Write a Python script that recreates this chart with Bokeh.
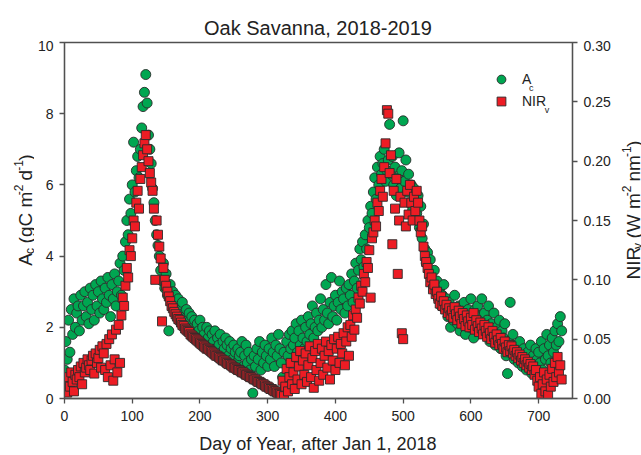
from bokeh.plotting import figure
from bokeh.models import Range1d, LinearAxis, Label, Legend, LegendItem, FixedTicker, NumeralTickFormatter
from bokeh.layouts import column, row
from bokeh.embed import file_html
from bokeh.resources import INLINE
import math

# ---------------- data (one value every 2 days) ----------------
day = list(range(0, 736, 2))

a_c = [
    0.8, 1.6, 1.1, 2.2, 1.3, 2.5, 1.8, 2.8, 2.0, 2.4,
    2.6, 1.9, 2.9, 2.2, 2.6, 3.0, 2.3, 2.7, 2.1, 3.1,
    2.5, 2.9, 2.2, 3.2, 2.6, 3.0, 2.4, 3.3, 2.8, 2.5,
    3.1, 2.7, 3.4, 2.9, 2.3, 3.2, 2.8, 3.5, 2.6, 3.0,
    3.3, 3.8, 2.9, 4.0, 3.6, 4.4, 5.0, 4.6, 5.6, 5.2,
    6.0, 7.2, 5.8, 6.4, 6.8, 6.2, 7.0, 7.6, 8.2, 8.6,
    9.1, 8.3, 7.4, 7.0, 6.6, 5.9, 5.5, 5.0, 4.6, 4.3,
    4.0, 3.6, 3.3, 3.8, 3.1, 3.5, 2.9, 1.9, 3.2, 2.7,
    3.0, 2.6, 2.9, 2.4, 2.8, 2.5, 2.2, 2.7, 2.4, 2.1,
    2.5, 2.2, 2.4, 1.9, 2.3, 2.0, 2.2, 1.8, 2.1, 1.9,
    2.2, 1.7, 2.0, 1.8, 1.6, 2.0, 1.7, 1.9, 1.5, 1.8,
    1.6, 1.9, 1.4, 1.7, 1.5, 1.8, 1.3, 1.6, 1.4, 1.7,
    1.5, 1.2, 1.6, 1.4, 1.1, 1.5, 1.3, 1.0, 1.4, 1.2,
    1.3, 1.6, 0.9, 1.2, 1.5, 1.0, 1.3, 0.8, 1.1, 0.15,
    1.2, 0.9, 1.4, 1.1, 1.6, 0.8, 1.3, 1.0, 1.5, 1.2,
    0.9, 1.4, 1.1, 1.7, 1.3, 0.9, 1.5, 1.2, 1.8, 1.4,
    1.0, 0.6, 1.3, 0.3, 1.6, 1.2, 1.8, 1.4, 1.9, 1.5,
    1.7, 2.1, 1.3, 1.9, 1.5, 2.2, 1.7, 1.4, 2.0, 1.6,
    2.3, 1.8, 2.1, 2.6, 1.7, 2.0, 2.4, 1.9, 2.2, 2.8,
    2.0, 2.5, 2.2, 3.2, 2.4, 2.1, 2.7, 3.4, 2.3, 2.6,
    2.9, 2.2, 2.7, 3.3, 2.5, 3.0, 2.8, 2.4, 3.1, 2.6,
    3.2, 2.9, 3.5, 2.7, 3.3, 3.8, 3.1, 3.6, 4.2, 3.9,
    4.4, 3.7, 4.6, 4.2, 5.0, 4.8, 5.4, 5.2, 5.8, 6.2,
    5.6, 6.5, 6.0, 6.8, 6.3, 6.6, 7.0, 6.1, 6.4, 6.7,
    7.7, 6.3, 6.8, 6.0, 6.5, 5.7, 6.2, 6.9, 5.9, 6.4,
    7.8, 6.1, 6.7, 5.8, 6.3, 5.5, 6.0, 5.3, 5.9, 5.6,
    5.2, 5.7, 4.8, 5.4, 4.5, 4.9, 4.2, 3.8, 4.1, 3.6,
    3.9, 3.4, 3.2, 3.6, 3.0, 3.3, 2.8, 3.1, 2.6, 2.9,
    3.2, 2.5, 2.8, 2.3, 2.7, 2.0, 2.5, 2.2, 2.9, 2.4,
    2.1, 2.6, 1.9, 2.4, 2.2, 2.7, 1.8, 2.3, 2.5, 2.0,
    2.8, 2.2, 1.7, 2.5, 2.1, 2.6, 1.9, 2.3, 2.8, 2.0,
    2.4, 1.8, 2.2, 2.6, 1.6, 2.1, 1.9, 2.4, 1.5, 2.0,
    1.8, 2.2, 1.4, 1.9, 1.7, 2.1, 1.2, 0.7, 1.6, 2.7,
    1.4, 1.8, 1.1, 1.5, 1.3, 1.0, 1.6, 1.2, 0.9, 1.4,
    1.1, 0.8, 1.3, 1.0, 1.5, 0.7, 1.2, 0.9, 1.4, 1.1,
    1.3, 1.0, 1.6, 0.8, 1.4, 1.1, 1.8, 1.2, 1.5, 1.0,
    1.7, 1.3, 1.9, 1.5, 2.1, 1.6, 2.3, 1.9,
]

nir_v = [
    0.008, 0.012, 0.005, 0.018, 0.010, 0.022, 0.014, 0.006, 0.020, 0.016,
    0.024, 0.018, 0.027, 0.012, 0.030, 0.022, 0.026, 0.033, 0.028, 0.024,
    0.032, 0.036, 0.021, 0.038, 0.030, 0.034, 0.041, 0.026, 0.044, 0.038,
    0.024, 0.046, 0.018, 0.050, 0.028, 0.054, 0.015, 0.033, 0.058, 0.022,
    0.062, 0.030, 0.070, 0.085, 0.078, 0.095, 0.110, 0.102, 0.125, 0.120,
    0.135, 0.150, 0.145, 0.165, 0.175, 0.160, 0.185, 0.195, 0.205, 0.215,
    0.222, 0.210, 0.200, 0.190, 0.182, 0.175, 0.160, 0.100, 0.150, 0.138,
    0.128, 0.118, 0.065, 0.110, 0.100, 0.095, 0.090, 0.086, 0.082, 0.078,
    0.076, 0.073, 0.071, 0.069, 0.067, 0.066, 0.064, 0.062, 0.061, 0.059,
    0.058, 0.057, 0.056, 0.054, 0.053, 0.052, 0.051, 0.050, 0.049, 0.048,
    0.047, 0.046, 0.045, 0.044, 0.043, 0.042, 0.042, 0.041, 0.040, 0.039,
    0.038, 0.037, 0.036, 0.036, 0.035, 0.034, 0.033, 0.032, 0.032, 0.031,
    0.030, 0.029, 0.029, 0.028, 0.027, 0.026, 0.026, 0.025, 0.024, 0.024,
    0.023, 0.022, 0.022, 0.021, 0.020, 0.020, 0.019, 0.018, 0.018, 0.017,
    0.016, 0.016, 0.015, 0.014, 0.014, 0.013, 0.012, 0.012, 0.011, 0.010,
    0.010, 0.009, 0.008, 0.008, 0.007, 0.006, 0.006, 0.005, 0.004, 0.004,
    0.003, 0.015, 0.002, 0.010, 0.025, 0.006, 0.018, 0.030, 0.012, 0.022,
    0.008, 0.035, 0.016, 0.027, 0.040, 0.012, 0.032, 0.020, 0.038, 0.014,
    0.028, 0.044, 0.018, 0.034, 0.009, 0.040, 0.024, 0.046, 0.015, 0.030,
    0.042, 0.020, 0.036, 0.048, 0.026, 0.040, 0.016, 0.045, 0.032, 0.050,
    0.024, 0.042, 0.052, 0.030, 0.046, 0.038, 0.055, 0.028, 0.048, 0.060,
    0.036, 0.062, 0.052, 0.070, 0.058, 0.075, 0.068, 0.085, 0.080, 0.095,
    0.090, 0.105, 0.098, 0.115, 0.110, 0.125, 0.085, 0.135, 0.140, 0.150,
    0.145, 0.165, 0.158, 0.175, 0.185, 0.170, 0.195, 0.215, 0.243, 0.240,
    0.190, 0.205, 0.130, 0.175, 0.160, 0.185, 0.105, 0.150, 0.170, 0.055,
    0.050, 0.165, 0.145, 0.175, 0.155, 0.180, 0.165, 0.150, 0.170, 0.158,
    0.175, 0.165, 0.150, 0.140, 0.145, 0.128, 0.120, 0.115, 0.110, 0.105,
    0.098, 0.102, 0.092, 0.096, 0.088, 0.090, 0.084, 0.080, 0.086, 0.078,
    0.082, 0.075, 0.079, 0.072, 0.076, 0.070, 0.074, 0.068, 0.077, 0.071,
    0.066, 0.074, 0.069, 0.063, 0.072, 0.067, 0.061, 0.070, 0.065, 0.060,
    0.068, 0.062, 0.072, 0.058, 0.066, 0.061, 0.056, 0.064, 0.059, 0.054,
    0.062, 0.057, 0.052, 0.060, 0.055, 0.050, 0.057, 0.052, 0.047, 0.054,
    0.049, 0.045, 0.051, 0.046, 0.042, 0.048, 0.043, 0.039, 0.045, 0.040,
    0.044, 0.038, 0.041, 0.036, 0.039, 0.034, 0.037, 0.032, 0.035, 0.030,
    0.033, 0.028, 0.031, 0.026, 0.029, 0.024, 0.027, 0.020, 0.024, 0.015,
    0.010, 0.018, 0.004, 0.012, 0.022, 0.006, 0.016, 0.003, 0.020, 0.010,
    0.025, 0.014, 0.030, 0.018, 0.035, 0.022, 0.028, 0.016,
]

x_ticks = [0, 100, 200, 300, 400, 500, 600, 700]
a_ticks = [0, 2, 4, 6, 8, 10]
nir_ticks = [0.0, 0.05, 0.10, 0.15, 0.20, 0.25, 0.30]

title_text = "Oak Savanna, 2018-2019"
x_label = "Day of Year, after Jan 1, 2018"

# ---------------- layout constants (page pixels, figure origin at page 0,0) ----------------
FONT = "Liberation Sans"
TXT = "#222222"
AX = "#505050"
TOTAL_W, TOTAL_H = 641, 455
TOP_H = 40
LEFT_W = 34
RIGHT_W = 28
MAIN_W = TOTAL_W - LEFT_W - RIGHT_W
FX0, FY0, FW, FH = 62, 42, 511, 357       # frame on the page
MAIN_H = (FY0 - TOP_H) + FH + 24
BOT_H = TOTAL_H - TOP_H - MAIN_H
XMAX, YMAX, NMAX = 750, 10, 0.30

p = figure(width=MAIN_W, height=MAIN_H, output_backend="svg", toolbar_location=None,
           x_range=Range1d(0, XMAX), y_range=Range1d(0, YMAX),
           min_border_left=FX0 - LEFT_W, min_border_right=LEFT_W + MAIN_W - FX0 - FW,
           min_border_top=FY0 - TOP_H, min_border_bottom=MAIN_H - (FY0 - TOP_H) - FH,
           title=None)
p.extra_y_ranges = {"nir": Range1d(0, NMAX)}
p.xgrid.visible = False
p.ygrid.visible = False
p.outline_line_color = AX
p.outline_line_width = 1.3
p.background_fill_color = "white"
p.border_fill_color = "white"

right = LinearAxis(y_range_name="nir")
p.add_layout(right, "right")

for ax in [p.xaxis[0], p.yaxis[0], right]:
    ax.axis_line_color = AX
    ax.axis_line_width = 1.3
    ax.major_tick_line_color = AX
    ax.major_tick_line_width = 1.3
    ax.major_tick_out = 5
    ax.major_tick_in = 0
    ax.minor_tick_out = 0
    ax.minor_tick_in = 0
    ax.major_label_text_font = FONT
    ax.major_label_text_font_size = "14px"
    ax.major_label_text_color = TXT
    ax.major_label_standoff = 6
p.xaxis[0].major_label_standoff = 7

p.xaxis[0].ticker = FixedTicker(ticks=x_ticks)
p.yaxis[0].ticker = FixedTicker(ticks=a_ticks)
right.ticker = FixedTicker(ticks=nir_ticks)
right.formatter = NumeralTickFormatter(format="0.00")

ga = p.scatter(day, a_c, marker="circle", size=10, fill_color="#00A651",
               line_color="#2a2a2a", line_width=0.9)
gn = p.scatter(day, nir_v, marker="square", size=9, fill_color="#ED1C24",
               line_color="#2a2a2a", line_width=0.9, y_range_name="nir")

legend = Legend(items=[LegendItem(label="A", renderers=[ga]),
                       LegendItem(label="NIR", renderers=[gn])],
                location=(426, 286), orientation="vertical",
                glyph_width=22, glyph_height=22, label_height=22, spacing=0,
                label_standoff=10, padding=0, margin=0,
                label_text_font=FONT, label_text_font_size="14px", label_text_color=TXT,
                background_fill_alpha=0, border_line_alpha=0)
p.add_layout(legend, "center")

# ---------------- text helpers ----------------
WID = {' ': 278, '(': 333, ')': 333, '-': 333, 'A': 667, 'C': 722, 'I': 278, 'N': 722,
       'R': 722, 'W': 944, 'c': 500, 'd': 556, 'g': 556, 'm': 833, 'n': 556, 'v': 500}


def tw(s, size):
    return sum(WID.get(ch, 556) for ch in s) / 1000.0 * size


def text_fig(w, h):
    f = figure(width=w, height=h, output_backend="svg", toolbar_location=None,
               x_range=Range1d(0, w), y_range=Range1d(h, 0), min_border=0,
               x_axis_type=None, y_axis_type=None, title=None)
    f.xgrid.visible = False
    f.ygrid.visible = False
    f.outline_line_color = None
    f.background_fill_color = "white"
    f.border_fill_color = "white"
    return f


def put(f, x, y, text, size, angle=0.0, align="left"):
    f.add_layout(Label(x=x, y=y, text=text, text_font=FONT, text_font_size=f"{size}px",
                       text_color=TXT, text_align=align, text_baseline="alphabetic",
                       angle=angle))


def run(f, x0, y0, parts, vertical=False):
    pos = 0.0
    for text, size, off in parts:
        body = text.lstrip(" ")
        lead = tw(text[:len(text) - len(body)], size)
        if vertical:
            put(f, x0 - off, y0 - pos - lead, body, size, angle=math.pi / 2)
        else:
            put(f, x0 + pos + lead, y0 - off, body, size)
        pos += tw(text, size)


# legend subscripts (inside the frame, data coordinates from page pixels)
def xd(xp):
    return (xp - FX0) * XMAX / FW


def yd(yp):
    return (FY0 + FH - yp) * YMAX / FH


for xp, yp, t in [(520 + tw("A", 14), 88, "c"), (521 + tw("NIR", 14), 110, "v")]:
    p.add_layout(Label(x=xd(xp), y=yd(yp), text=t, text_font=FONT, text_font_size="9px",
                       text_color=TXT, text_baseline="alphabetic"))

# title
top = text_fig(TOTAL_W, TOP_H)
put(top, FX0 + FW / 2, 27, title_text, 20, align="center")

# x axis label
bot = text_fig(TOTAL_W, BOT_H)
put(bot, FX0 + FW / 2, 443 - (TOP_H + MAIN_H), x_label, 18, align="center")

# left axis label: A_c (gC m^-2 d^-1)
L, S = 19, 12
lf = text_fig(LEFT_W, MAIN_H)
left_parts = [("A", L, 0), ("c", S, -4), (" (gC m", L, 0), ("-2", S, 7),
              (" d", L, 0), ("-1", S, 7), (")", L, 0)]
tot = sum(tw(t, s) for t, s, _ in left_parts)
run(lf, 25, FY0 + FH / 2 + tot / 2 - TOP_H, left_parts, vertical=True)

# right axis label: NIR_v (W m^-2 nm^-1)
rf = text_fig(RIGHT_W, MAIN_H)
right_parts = [("NIR", L, 0), ("v", S, -4), (" (W m", L, 0), ("-2", S, 7),
               (" nm", L, 0), ("-1", S, 7), (")", L, 0)]
tot = sum(tw(t, s) for t, s, _ in right_parts)
run(rf, 633 - LEFT_W - MAIN_W, FY0 + FH / 2 + tot / 2 - TOP_H, right_parts, vertical=True)

layout = column(top, row(lf, p, rf), bot)
open("out.html", "w").write(file_html(layout, INLINE))
